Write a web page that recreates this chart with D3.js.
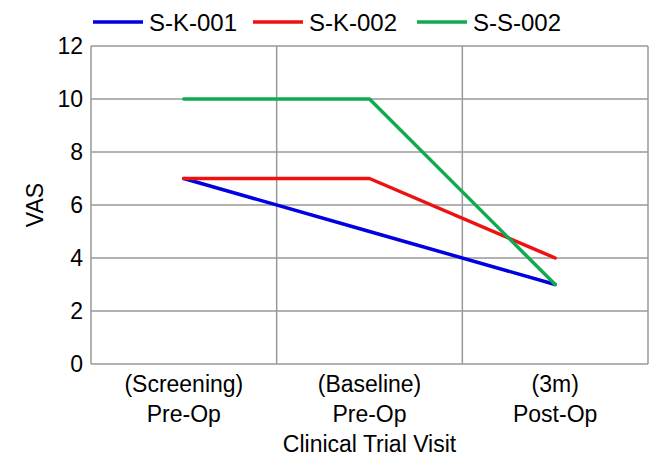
<!DOCTYPE html>
<html>
<head>
<meta charset="utf-8">
<script src="https://cdn.jsdelivr.net/npm/d3@7"></script>
<style>
  body { margin: 0; background: #fff; }
  text { font-family: "Liberation Sans", Arial, sans-serif; fill: #000; }
</style>
</head>
<body>
<script>
// chart data
const visits = ["(Screening)|Pre-Op", "(Baseline)|Pre-Op", "(3m)|Post-Op"];
const seriesNames = ["S-K-001", "S-K-002", "S-S-002"];
const seriesColors = ["#0000e0", "#ee1111", "#10aa50"];
const sk001 = [7, 5, 3];
const sk002 = [7, 7, 4];
const ss002 = [10, 10, 3];
const yTicks = [0, 2, 4, 6, 8, 10, 12];

const series = [sk001, sk002, ss002];

const width = 669, height = 476;
const margin = {top: 46, right: 21, bottom: 112, left: 91};
const fs = "23px";

const svg = d3.select("body").append("svg")
    .attr("width", width)
    .attr("height", height);

const x = d3.scaleBand()
    .domain(visits)
    .range([margin.left, width - margin.right]);

const y = d3.scaleLinear()
    .domain([0, 12])
    .range([height - margin.bottom, margin.top]);

// horizontal gridlines
svg.append("g")
    .selectAll("line")
    .data(yTicks)
    .enter().append("line")
    .attr("x1", margin.left)
    .attr("x2", width - margin.right)
    .attr("y1", d => y(d))
    .attr("y2", d => y(d))
    .attr("stroke", "#999")
    .attr("stroke-width", 1.5);

// vertical gridlines at category boundaries
svg.append("g")
    .selectAll("line")
    .data(visits)
    .enter().append("line")
    .attr("x1", d => x(d) + x.bandwidth())
    .attr("x2", d => x(d) + x.bandwidth())
    .attr("y1", margin.top)
    .attr("y2", height - margin.bottom)
    .attr("stroke", "#999")
    .attr("stroke-width", 1.5);

// left axis line
svg.append("line")
    .attr("x1", margin.left).attr("x2", margin.left)
    .attr("y1", margin.top).attr("y2", height - margin.bottom)
    .attr("stroke", "#999")
    .attr("stroke-width", 1.5);

// y tick labels
svg.append("g")
    .selectAll("text")
    .data(yTicks)
    .enter().append("text")
    .attr("x", margin.left - 8)
    .attr("y", d => y(d))
    .attr("dy", "0.36em")
    .attr("text-anchor", "end")
    .style("font-size", fs)
    .text(d => d);

// x tick labels (two lines)
const xl = svg.append("g")
    .selectAll("text")
    .data(visits)
    .enter().append("text")
    .attr("text-anchor", "middle")
    .style("font-size", fs);
xl.append("tspan")
    .attr("x", d => x(d) + x.bandwidth() / 2)
    .attr("y", height - margin.bottom + 28)
    .text(d => d.split("|")[0]);
xl.append("tspan")
    .attr("x", d => x(d) + x.bandwidth() / 2)
    .attr("y", height - margin.bottom + 58)
    .text(d => d.split("|")[1]);

// axis titles
svg.append("text")
    .attr("x", (margin.left + width - margin.right) / 2)
    .attr("y", height - margin.bottom + 88)
    .attr("text-anchor", "middle")
    .style("font-size", fs)
    .text("Clinical Trial Visit");

svg.append("text")
    .attr("transform", `translate(43,${(margin.top + height - margin.bottom) / 2}) rotate(-90)`)
    .attr("text-anchor", "middle")
    .style("font-size", fs)
    .text("VAS");

// series lines
const line = d3.line()
    .x((d, i) => x(visits[i]) + x.bandwidth() / 2)
    .y(d => y(d));

svg.append("g")
    .selectAll("path")
    .data(series)
    .enter().append("path")
    .attr("d", line)
    .attr("fill", "none")
    .attr("stroke", (d, i) => seriesColors[i])
    .attr("stroke-width", 3.5)
    .attr("stroke-linejoin", "round")
    .attr("stroke-linecap", "round");

// legend
const legendX = [93, 253, 417];
const lg = svg.append("g")
    .selectAll("g")
    .data(seriesNames)
    .enter().append("g")
    .attr("transform", (d, i) => `translate(${legendX[i]},22)`);
lg.append("line")
    .attr("x1", 0).attr("x2", 50)
    .attr("stroke", (d, i) => seriesColors[i])
    .attr("stroke-width", 3.5);
lg.append("text")
    .attr("x", 56)
    .attr("dy", "0.36em")
    .style("font-size", "24px")
    .text(d => d);
</script>
</body>
</html>
